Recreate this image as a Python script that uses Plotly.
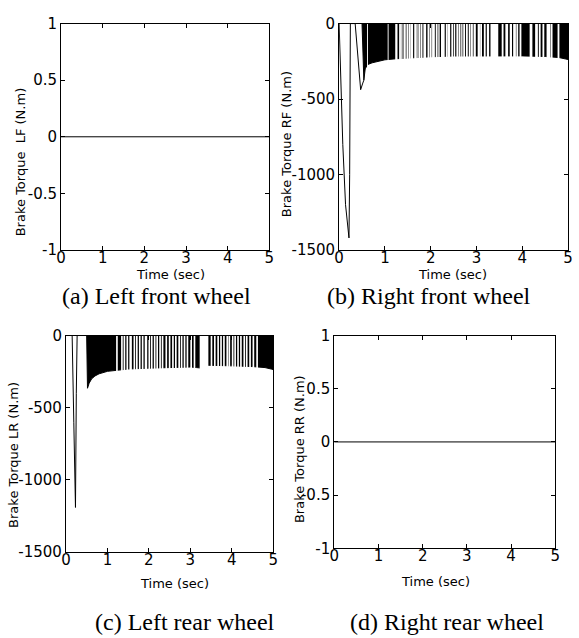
import plotly.graph_objects as go

W, H = 579, 638

# ---------------- data ----------------
time_ticks = [0, 1, 2, 3, 4, 5]
time_ticktext = ["0", "1", "2", "3", "4", "5"]
unit_ticks = [1, 0.5, 0, -0.5, -1]
unit_ticktext = ["1", "0.5", "0", "-0.5", "-1"]
torque_ticks = [0, -500, -1000, -1500]
torque_ticktext = ["0", "-500", "-1000", "-1500"]

# Left front / right rear: zero torque
lf_t = [0, 5]
lf_v = [0, 0]
rr_t = [0, 5]
rr_v = [0, 0]

# Right front: transient part
rf_tr_t = [0, 0.03, 0.08, 0.14, 0.19, 0.215, 0.23, 0.245, 0.35, 0.40, 0.44, 0.47, 0.51, 0.54]
rf_tr_v = [0, -350, -800, -1200, -1380, -1420, -1000, 0, 0, -200, -380, -438, -400, -375]
# Right front: lower envelope of chattering torque
rf_env_t = [0.50, 0.54, 0.57, 0.62, 0.72, 0.86, 1.0, 1.25, 1.5, 2.0, 2.5, 3.0, 3.5, 4.0, 4.5, 4.8, 4.95, 5.0]
rf_env_v = [0, -375, -300, -272, -260, -248, -240, -233, -228, -220, -215, -213, -213, -214, -218, -225, -235, -238]
# Right front: times where torque rests at zero (white gaps), centre and duration (s)
rf_gap_t = [0.62, 1.07, 1.25, 1.33, 1.37, 1.43, 1.49, 1.54, 1.59, 1.66, 1.70, 1.75, 1.80, 1.87,
            1.95, 2.00, 2.06, 2.13, 2.18, 2.25, 2.29, 2.35, 2.40, 2.47, 2.52, 2.58, 2.63, 2.68,
            2.73, 2.79, 2.85, 2.90, 2.96, 3.05, 3.10, 3.18, 3.25, 3.39, 3.57, 3.66, 3.75, 3.83,
            3.89, 3.96, 4.19, 4.31, 4.38, 4.46, 4.57, 4.64, 4.79]
rf_gap_w = [0.02, 0.02, 0.05, 0.04, 0.03, 0.05, 0.04, 0.04, 0.05, 0.04, 0.03, 0.04, 0.04, 0.06,
            0.04, 0.04, 0.06, 0.04, 0.03, 0.05, 0.03, 0.04, 0.05, 0.04, 0.03, 0.04, 0.04, 0.03,
            0.04, 0.04, 0.04, 0.04, 0.05, 0.05, 0.04, 0.04, 0.05, 0.17, 0.04, 0.06, 0.05, 0.06,
            0.04, 0.04, 0.06, 0.06, 0.04, 0.04, 0.08, 0.04, 0.04]

# Left rear: transient part
lr_tr_t = [0, 0.15, 0.19, 0.23, 0.25, 0.27, 0.50]
lr_tr_v = [0, 0, -600, -1190, -400, 0, 0]
# Left rear: lower envelope of chattering torque
lr_env_t = [0.50, 0.52, 0.56, 0.62, 0.70, 0.80, 1.0, 1.25, 1.5, 2.0, 2.5, 3.0, 3.15, 3.25, 3.35,
            3.6, 4.0, 4.5, 4.8, 4.95, 5.0]
lr_env_v = [0, -365, -330, -300, -280, -265, -248, -238, -232, -226, -222, -218, -222, -225,
            -205, -205, -210, -215, -222, -232, -236]
lr_gap_t = [1.23, 1.35, 1.41, 1.48, 1.56, 1.65, 1.71, 1.78, 1.85, 1.93, 2.01, 2.07, 2.14, 2.20,
            2.27, 2.33, 2.42, 2.50, 2.58, 2.65, 2.73, 2.79, 2.86, 2.93, 3.02, 3.10, 3.33, 3.51,
            3.59, 3.67, 3.74, 3.81, 3.89, 3.94, 4.02, 4.08, 4.15, 4.22, 4.30, 4.36, 4.44, 4.52, 4.61]
lr_gap_w = [0.04, 0.04, 0.04, 0.04, 0.06, 0.04, 0.04, 0.04, 0.04, 0.06, 0.04, 0.04, 0.04, 0.04,
            0.04, 0.04, 0.04, 0.04, 0.04, 0.04, 0.04, 0.04, 0.04, 0.04, 0.04, 0.04, 0.21, 0.04,
            0.04, 0.04, 0.04, 0.04, 0.04, 0.04, 0.04, 0.04, 0.04, 0.04, 0.04, 0.04, 0.04, 0.04, 0.04]

gap_floor = -300  # white gaps run from 0 down past the envelope

y_titles = ["Brake Torque\u00a0 LF (N.m)", "Brake Torque RF (N.m)",
            "Brake Torque LR (N.m)", "Brake Torque RR (N.m)"]
captions = ["(a) Left front wheel", "(b) Right front wheel",
            "(c) Left rear wheel", "(d) Right rear wheel"]

# ---------------- layout helpers ----------------
def px(x):
    return x / W

def py(y):
    return 1 - y / H

# plot boxes in pixels: (left, right, top, bottom)
boxes = [(57, 269, 15, 248), (340, 573, 15, 248), (62, 273, 336, 559), (335, 560, 336, 555)]

SANS = "DejaVu Sans"
SERIF = "Liberation Serif"

fig = go.Figure()


def gap_polys(ts, ws):
    xs, ys = [], []
    for c, w in zip(ts, ws):
        xs += [c - w / 2, c + w / 2, c + w / 2, c - w / 2, c - w / 2, None]
        ys += [0, 0, gap_floor, gap_floor, 0, None]
    return xs, ys

line = dict(color="black", width=1)

# (a)
fig.add_trace(go.Scatter(x=lf_t, y=lf_v, mode="lines", line=line, xaxis="x", yaxis="y"))
# (b)
fig.add_trace(go.Scatter(x=rf_env_t, y=rf_env_v, mode="lines", line=dict(color="black", width=1),
                         fill="tozeroy", fillcolor="black", xaxis="x2", yaxis="y2"))
gx, gy = gap_polys(rf_gap_t, rf_gap_w)
fig.add_trace(go.Scatter(x=gx, y=gy, mode="lines", line=dict(width=0, color="white"),
                         fill="toself", fillcolor="white", xaxis="x2", yaxis="y2"))
fig.add_trace(go.Scatter(x=rf_tr_t, y=rf_tr_v, mode="lines", line=line, xaxis="x2", yaxis="y2"))
# (c)
fig.add_trace(go.Scatter(x=lr_env_t, y=lr_env_v, mode="lines", line=dict(color="black", width=1),
                         fill="tozeroy", fillcolor="black", xaxis="x3", yaxis="y3"))
gx, gy = gap_polys(lr_gap_t, lr_gap_w)
fig.add_trace(go.Scatter(x=gx, y=gy, mode="lines", line=dict(width=0, color="white"),
                         fill="toself", fillcolor="white", xaxis="x3", yaxis="y3"))
fig.add_trace(go.Scatter(x=lr_tr_t, y=lr_tr_v, mode="lines", line=line, xaxis="x3", yaxis="y3"))
# (d)
fig.add_trace(go.Scatter(x=rr_t, y=rr_v, mode="lines", line=line, xaxis="x4", yaxis="y4"))

axis_common = dict(ticks="inside", ticklen=4, tickcolor="black", tickwidth=1,
                   showline=True, linecolor="black", linewidth=1, mirror="ticks",
                   showgrid=False, zeroline=False,
                   tickfont=dict(family=SANS, size=15, color="black"))

layout = dict(width=W, height=H, margin=dict(l=0, r=0, t=0, b=0),
              paper_bgcolor="white", plot_bgcolor="white", showlegend=False)

yspecs = [(unit_ticks, unit_ticktext, [-1, 1]), (torque_ticks, torque_ticktext, [-1500, 0]),
          (torque_ticks, torque_ticktext, [-1500, 0]), (unit_ticks, unit_ticktext, [-1, 1])]

for i, (box, ys) in enumerate(zip(boxes, yspecs)):
    l, r, t, b = box
    sfx = "" if i == 0 else str(i + 1)
    layout["xaxis" + sfx] = dict(axis_common, domain=[px(l), px(r)], range=[0, 5],
                                 tickvals=time_ticks, ticktext=time_ticktext,
                                 ticklabelstandoff=-6, anchor="y" + sfx)
    layout["yaxis" + sfx] = dict(axis_common, domain=[py(b), py(t)], range=ys[2],
                                 tickvals=ys[0], ticktext=ys[1], ticklabelstandoff=0,
                                 anchor="x" + sfx)

fig.update_layout(**layout)

ann = []
ytitle_pos = [(16, 157), (286, 139), (8, 459), (299, 453)]
xtitle_pos = [(168, 273), (455, 273), (172, 591), (438, 589)]
cap_pos = [(154, 295), (431, 295), (183, 631), (450, 631)]
for i in range(4):
    ann.append(dict(x=px(ytitle_pos[i][0]), y=py(ytitle_pos[i][1]), xref="paper", yref="paper",
                    text=y_titles[i], showarrow=False, textangle=-90,
                    font=dict(family=SANS, size=13, color="black"),
                    xanchor="center", yanchor="middle"))
    ann.append(dict(x=px(xtitle_pos[i][0]), y=py(xtitle_pos[i][1]), xref="paper", yref="paper",
                    text="Time (sec)", showarrow=False,
                    font=dict(family=SANS, size=13, color="black"),
                    xanchor="center", yanchor="middle"))
    ann.append(dict(x=px(cap_pos[i][0]), y=py(cap_pos[i][1]), xref="paper", yref="paper",
                    text=captions[i], showarrow=False,
                    font=dict(family=SERIF, size=24, color="black"),
                    xanchor="center", yanchor="middle"))
fig.update_layout(annotations=ann)

fig.write_html("out.html", config={"displayModeBar": False},
               post_script="document.body.style.margin='0';document.body.style.overflow='hidden';")
